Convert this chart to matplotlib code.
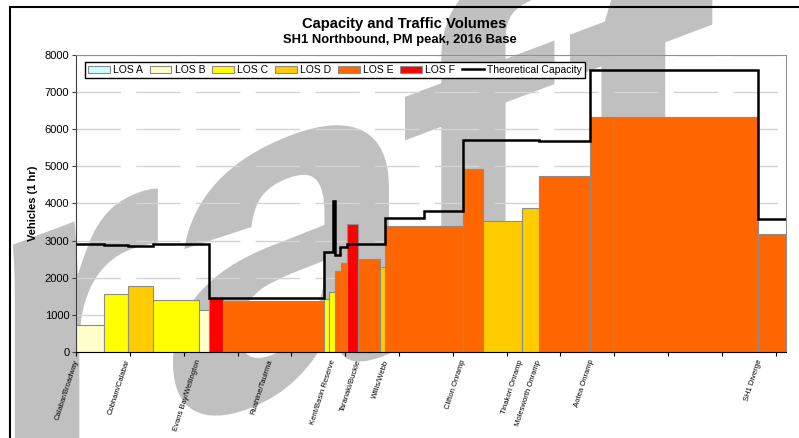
import matplotlib.pyplot as plt
import numpy as np
from matplotlib.textpath import TextPath
from matplotlib.path import Path
from matplotlib.patches import PathPatch, Patch, Rectangle
from matplotlib.lines import Line2D
from matplotlib.font_manager import FontProperties
from matplotlib.transforms import IdentityTransform, blended_transform_factory

plt.rcParams['font.family'] = ['Liberation Sans', 'DejaVu Sans']

# Segments along SH1 northbound (chainage in m), volume and level of service
seg_start = [0, 255, 478, 710, 1140, 1230, 1366, 2304, 2351, 2400, 2457, 2513,
             2621, 2822, 2872, 3591, 3784, 4139, 4303, 4774, 4991, 6338]
seg_end = [255, 478, 710, 1140, 1230, 1366, 2304, 2351, 2400, 2457, 2513, 2621,
           2822, 2872, 3591, 3784, 4139, 4303, 4774, 4991, 6338, 6596]
seg_volume = [730, 1560, 1770, 1400, 1130, 1450, 1375, 1420, 1610, 2190, 2410, 3450,
              2495, 2305, 3400, 4935, 3530, 3880, 4730, 6333, 6333, 3170]
seg_los = ['B', 'C', 'D', 'C', 'B', 'F', 'E', 'C', 'C', 'E', 'E', 'F',
           'E', 'D', 'E', 'E', 'D', 'D', 'E', 'E', 'E', 'E']

# Theoretical capacity (step line)
cap_edges = [0, 255, 478, 710, 1230, 2304, 2390, 2402, 2448, 2513, 2872, 3234,
             3591, 4015, 4303, 4774, 6338, 6596]
cap_values = [2905, 2875, 2855, 2905, 1452, 2705, 4060, 2620, 2820, 2905, 3605,
              3806, 5710, 5700, 5675, 7581, 3575]

# Location labels along the x axis
loc_names = ['Calabar/Broadway', 'Cobham/Calabar', 'Evans Bay/Wellington',
             'Ruahine/Tauirma', 'Kent/Basin Reserve', 'Taranaki/Buckle',
             'Willis/Webb', 'Clifton Onramp', 'Tinakori Onramp',
             'Molesworth Onramp', 'Aotea Onramp', 'SH1 Diverge']
loc_pos = [0, 478, 1143, 1807, 2388, 2630, 2885, 3597, 4139, 4303, 4790, 6354]

los_names = ['A', 'B', 'C', 'D', 'E', 'F']
los_colors = {'A': '#CCFFFF', 'B': '#FFFFCC', 'C': '#FFFF00',
              'D': '#FFCC00', 'E': '#FF6600', 'F': '#FF0000'}

fig = plt.figure(figsize=(7.99, 4.38), dpi=100)

# "Draft" watermark, sheared upward, behind everything
fp = FontProperties(family='Liberation Sans', weight='bold')
em = 470
shear = 0.377
for ch, left in zip('Draft', [-330, 13, 173, 405, 570]):
    tp = TextPath((0, 0), ch, size=em, prop=fp)
    v = tp.vertices.copy()
    ext = tp.get_extents()
    v[:, 0] += left - ext.x0
    v[:, 1] += -41 + shear * (v[:, 0] - 50)
    wm = PathPatch(Path(v, tp.codes), facecolor='#C0C0C0', edgecolor='none',
                   transform=IdentityTransform(), zorder=-2)
    fig.add_artist(wm)

# outer frame
fig.add_artist(Rectangle((10 / 799, -0.05), 1.0, (438 - 7) / 438 + 0.05, fill=False,
                         edgecolor='black', linewidth=1.5, transform=fig.transFigure))

ax = fig.add_axes([0.0955, 0.1957, 0.8882, 0.6796])
ax.patch.set_alpha(0)
ax.set_axisbelow(True)

widths = [e - s for s, e in zip(seg_start, seg_end)]
ax.bar(seg_start, seg_volume, width=widths, align='edge',
       color=[los_colors[l] for l in seg_los], edgecolor='#8C8C8C', linewidth=0.8)
ax.stairs(cap_values, cap_edges, baseline=None, color='black', linewidth=1.8, zorder=3)

ax.set_xlim(0, 6596)
ax.set_ylim(0, 8000)
ax.set_yticks(np.arange(0, 8001, 1000))
ax.set_xticks(np.arange(0, 6501, 500))
ax.set_xticklabels([])
ax.tick_params(axis='y', labelsize=8, length=3, color='#404040', pad=2)
ax.tick_params(axis='x', length=3, color='black')
ax.grid(axis='y', color='#D4D4D4', linewidth=1, dashes=(32, 11))
ax.spines['top'].set_color('#909090')
ax.spines['right'].set_color('#909090')
ax.spines['top'].set_linewidth(0.8)
ax.spines['right'].set_linewidth(0.8)
ax.spines['left'].set_color('#404040')
ax.spines['bottom'].set_color('black')

ax.set_ylabel('Vehicles (1 hr)', fontsize=8, fontweight='bold', labelpad=5)

trans = blended_transform_factory(ax.transData, ax.transAxes)
for name, pos in zip(loc_names, loc_pos):
    ax.text(pos, -0.026, name, transform=trans, rotation=72, rotation_mode='anchor',
            ha='right', va='center', fontsize=5.5)

handles = [Patch(facecolor=los_colors[l], edgecolor='#8C8C8C', linewidth=0.8)
           for l in los_names]
handles.append(Line2D([], [], color='black', linewidth=1.8))
labels = ['LOS ' + l for l in los_names] + ['Theoretical Capacity']
leg = ax.legend(handles, labels, ncol=7, loc='upper left', bbox_to_anchor=(0.012, 0.976),
                borderaxespad=0, fontsize=7.5, handlelength=2.1, handleheight=0.6,
                handletextpad=0.3, columnspacing=0.65, borderpad=0.3, fancybox=False,
                framealpha=1, edgecolor='black')
leg.get_frame().set_linewidth(1)

fig.text(0.506, 1 - 24 / 438, 'Capacity and Traffic Volumes', ha='center', va='center',
         fontsize=10.6, fontweight='bold')
fig.text(0.5, 1 - 40 / 438, 'SH1 Northbound, PM peak, 2016 Base', ha='center',
         va='center', fontsize=9.4, fontweight='bold')

fig.savefig('out.png', dpi=100)
